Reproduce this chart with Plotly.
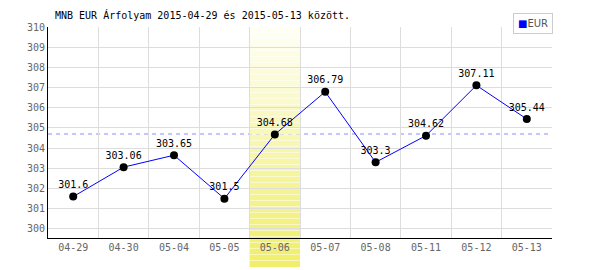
import plotly.graph_objects as go

dates = ["04-29", "04-30", "05-04", "05-05", "05-06", "05-07", "05-08", "05-11", "05-12", "05-13"]
rates = [301.6, 303.06, 303.65, 301.5, 304.68, 306.79, 303.3, 304.62, 307.11, 305.44]
labels = ["301.6", "303.06", "303.65", "301.5", "304.68", "306.79", "303.3", "304.62", "307.11", "305.44"]
ref_level = 304.7
highlight_cat = "05-06"
title = "MNB EUR Árfolyam 2015-04-29 és 2015-05-13 között."
series_name = "EUR"

MONO = "DejaVu Sans Mono"

fig = go.Figure()
fig.add_trace(go.Scatter(
    x=dates, y=rates, mode="lines+markers+text",
    line=dict(color="#0000ff", width=1),
    marker=dict(color="#000000", size=8),
    text=labels, textposition="top center",
    textfont=dict(family=MONO, size=10, color="#000000"),
    showlegend=False, cliponaxis=False,
))

shapes = []
# reference dashed line
shapes.append(dict(type="line", xref="paper", yref="y", x0=0, x1=1, y0=ref_level, y1=ref_level,
                   line=dict(color="#8c8cff", width=1, dash="4px,4px"), layer="between"))
# gradient highlight
idx = dates.index(highlight_cat)
n = 40
top = (255, 255, 246)
bot = (240, 238, 104)
y_top, y_bot = 1.0, -0.1374
for i in range(n):
    t = (i + 0.5) / n
    c = tuple(round(top[k] + (bot[k] - top[k]) * t) for k in range(3))
    shapes.append(dict(type="rect", xref="x", yref="paper",
                       x0=idx - 0.5, x1=idx + 0.5,
                       y0=y_top + (y_bot - y_top) * i / n,
                       y1=y_top + (y_bot - y_top) * (i + 1) / n + (0.002 if i < n - 1 else 0),
                       fillcolor="rgb(%d,%d,%d)" % c, line=dict(width=0), layer="between"))

fig.update_layout(
    width=600, height=270,
    margin=dict(l=48, r=48, t=27, b=32),
    paper_bgcolor="white", plot_bgcolor="white",
    shapes=shapes,
    annotations=[
        dict(text=title, xref="paper", yref="paper", x=0.01, y=1, yshift=4,
             xanchor="left", yanchor="bottom", showarrow=False,
             font=dict(family=MONO, size=10, color="#000000")),
        dict(text="<span style='color:#0000ff'>■</span><span style='color:#555'>EUR</span>",
             xref="paper", yref="paper", x=1.002, y=1.066, xanchor="right", yanchor="top",
             showarrow=False, bordercolor="#cccccc", borderwidth=1, borderpad=4, bgcolor="white",
             font=dict(family="DejaVu Sans", size=10, color="#555")),
    ],
    xaxis=dict(type="category", range=[-0.5, len(dates) - 0.5], tickson="boundaries",
               showgrid=True, gridcolor="#dddddd", gridwidth=1,
               showline=True, linecolor="#000000", linewidth=1, ticks="",
               tickfont=dict(family=MONO, size=10, color="#666666"), fixedrange=True),
    yaxis=dict(range=[299.55, 310], dtick=1, tick0=300,
               showgrid=True, gridcolor="#dddddd", gridwidth=1,
               showline=True, linecolor="#000000", linewidth=1, ticks="",
               zeroline=False,
               tickfont=dict(family=MONO, size=10, color="#666666"), fixedrange=True),
)

fig.write_html("out.html")
